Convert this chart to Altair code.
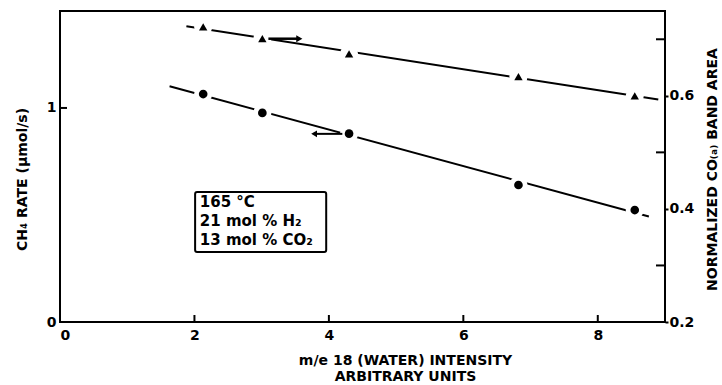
import altair as alt
import pandas as pd

# ---- data ----
water = [2.13, 3.01, 4.30, 6.82, 8.55]
ch4_rate = [1.065, 0.977, 0.880, 0.640, 0.523]          # left axis, circles
co_area = [0.722, 0.701, 0.674, 0.634, 0.600]           # right axis, triangles

circ_extent = [1.63, 8.76]
tri_extent = [1.88, 8.90]

x_ticks = [0, 2, 4, 6, 8]
x_minor = [2, 4, 6, 8]
left_labels = [0, 1]
left_inner_ticks = [1]
right_labels = [0.2, 0.4, 0.6]
right_inner_ticks = [0.3, 0.5, 0.7]

# arrows: (x_from, x_to, y)
circ_arrow = {"x": [4.20], "x2": [3.78], "y": [0.879]}
tri_arrow = {"x": [3.10], "x2": [3.56], "y": [0.701]}

# note box
box = {"x": [2.01], "x2": [3.96], "y": [0.607], "y2": [0.327]}
note_lines = ["165 °C", "21 mol % H₂", "13 mol % CO₂"]
note_y = [0.560, 0.472, 0.384]
note_x = [2.08, 2.08, 2.08]

X_DOM = [0, 9]
L_DOM = [0, 1.453]
R_DOM = [0.2, 0.75]
W, H = 605, 311
FONT = "DejaVu Sans"

circ = pd.DataFrame({"x": water, "y": ch4_rate})
tri = pd.DataFrame({"x": water, "y": co_area})

x_axis = alt.Axis(
    values=x_ticks, format="d", ticks=False, domain=False, grid=False,
    labelPadding=6, labelFontSize=14,
    title=["m/e 18 (WATER) INTENSITY", "ARBITRARY UNITS"],
    titleX=345, titleY=31, titleAlign="center", titleBaseline="top",
    titleLineHeight=16, titleFontSize=14,
)
left_axis = alt.Axis(
    values=left_labels, format="d", ticks=False, domain=False, grid=False,
    labelPadding=4, labelFontSize=14,
    title="CH₄ RATE (μmol/s)", titleAngle=270, titleX=-38, titleY=168,
    titleAlign="center", titleBaseline="middle", titleFontSize=14,
)
right_axis = alt.Axis(
    orient="right", values=right_labels, format=".1f", ticks=True, tickSize=3,
    tickWidth=2, tickColor="black", domain=False, grid=False,
    labelPadding=1, labelFontSize=14,
    title="NORMALIZED CO₍ₐ₎ BAND AREA", titleAngle=270, titleX=47, titleY=158,
    titleAlign="center", titleBaseline="middle", titleFontSize=14,
)


def X(field="x"):
    return alt.X(f"{field}:Q", scale=alt.Scale(domain=X_DOM, nice=False, zero=False), axis=x_axis)


def YL(field="y"):
    return alt.Y(f"{field}:Q", scale=alt.Scale(domain=L_DOM, nice=False, zero=False), axis=left_axis)


def YR(field="y"):
    return alt.Y(f"{field}:Q", scale=alt.Scale(domain=R_DOM, nice=False, zero=False), axis=right_axis)


# ---- left group ----
c_line = alt.Chart(circ).transform_regression("x", "y", extent=circ_extent).mark_line(
    color="black", strokeWidth=2).encode(x=X(), y=YL())
c_halo = alt.Chart(circ).mark_point(filled=True, color="white", size=330, opacity=1).encode(
    x=X(), y=YL())
c_pts = alt.Chart(circ).mark_point(filled=True, color="black", size=75, opacity=1, shape="circle").encode(
    x=X(), y=YL())
c_arr = alt.Chart(pd.DataFrame(circ_arrow)).mark_rule(color="black", strokeWidth=2).encode(
    x=X(), x2="x2:Q", y=YL())
c_head = alt.Chart(pd.DataFrame(circ_arrow)).mark_point(
    shape="triangle-left", filled=True, color="black", size=45, opacity=1).encode(
    x=X("x2"), y=YL())
note_box = alt.Chart(pd.DataFrame(box)).mark_rect(
    fill="white", stroke="black", strokeWidth=2, cornerRadius=2).encode(
    x=X(), x2="x2:Q", y=YL(), y2="y2:Q")
note_txt = alt.Chart(pd.DataFrame({"x": note_x, "y": note_y, "t": note_lines})).mark_text(
    align="left", baseline="middle", font=FONT, fontWeight="bold", fontSize=15, color="black").encode(
    x=X(), y=YL(), text="t:N")
x_tk = alt.Chart(pd.DataFrame({"x": x_minor})).mark_rule(color="black", strokeWidth=2).encode(
    x=X(), y=alt.value(H), y2=alt.value(H - 7))
l_tk = alt.Chart(pd.DataFrame({"y": left_inner_ticks})).mark_rule(color="black", strokeWidth=2).encode(
    y=YL(), x=alt.value(0), x2=alt.value(7))

left = alt.layer(c_line, c_halo, c_pts, c_arr, c_head, note_box, note_txt, x_tk, l_tk)

# ---- right group ----
t_line = alt.Chart(tri).transform_regression("x", "y", extent=tri_extent).mark_line(
    color="black", strokeWidth=2).encode(x=X(), y=YR())
t_halo = alt.Chart(tri).mark_point(filled=True, color="white", size=330, opacity=1).encode(
    x=X(), y=YR())
t_pts = alt.Chart(tri).mark_point(filled=True, color="black", size=70, opacity=1, shape="triangle-up").encode(
    x=X(), y=YR())
t_arr = alt.Chart(pd.DataFrame(tri_arrow)).mark_rule(color="black", strokeWidth=2.5).encode(
    x=X(), x2="x2:Q", y=YR())
t_head = alt.Chart(pd.DataFrame(tri_arrow)).mark_point(
    shape="triangle-right", filled=True, color="black", size=50, opacity=1).encode(
    x=X("x2"), y=YR())
r_tk = alt.Chart(pd.DataFrame({"y": right_inner_ticks})).mark_rule(color="black", strokeWidth=2).encode(
    y=YR(), x=alt.value(W - 9), x2=alt.value(W))

right = alt.layer(t_line, t_halo, t_pts, t_arr, t_head, r_tk)

chart = alt.layer(left, right).resolve_scale(y="independent").properties(
    width=W, height=H, autosize="none",
    padding={"left": 60, "top": 11, "right": 57, "bottom": 63},
    background="white",
).configure_view(stroke="black", strokeWidth=2).configure_axis(
    labelFont=FONT, titleFont=FONT, labelFontWeight="bold", titleFontWeight="bold",
    labelColor="black", titleColor="black",
)

chart.save("out.html", embed_options={"renderer": "svg", "actions": False})
